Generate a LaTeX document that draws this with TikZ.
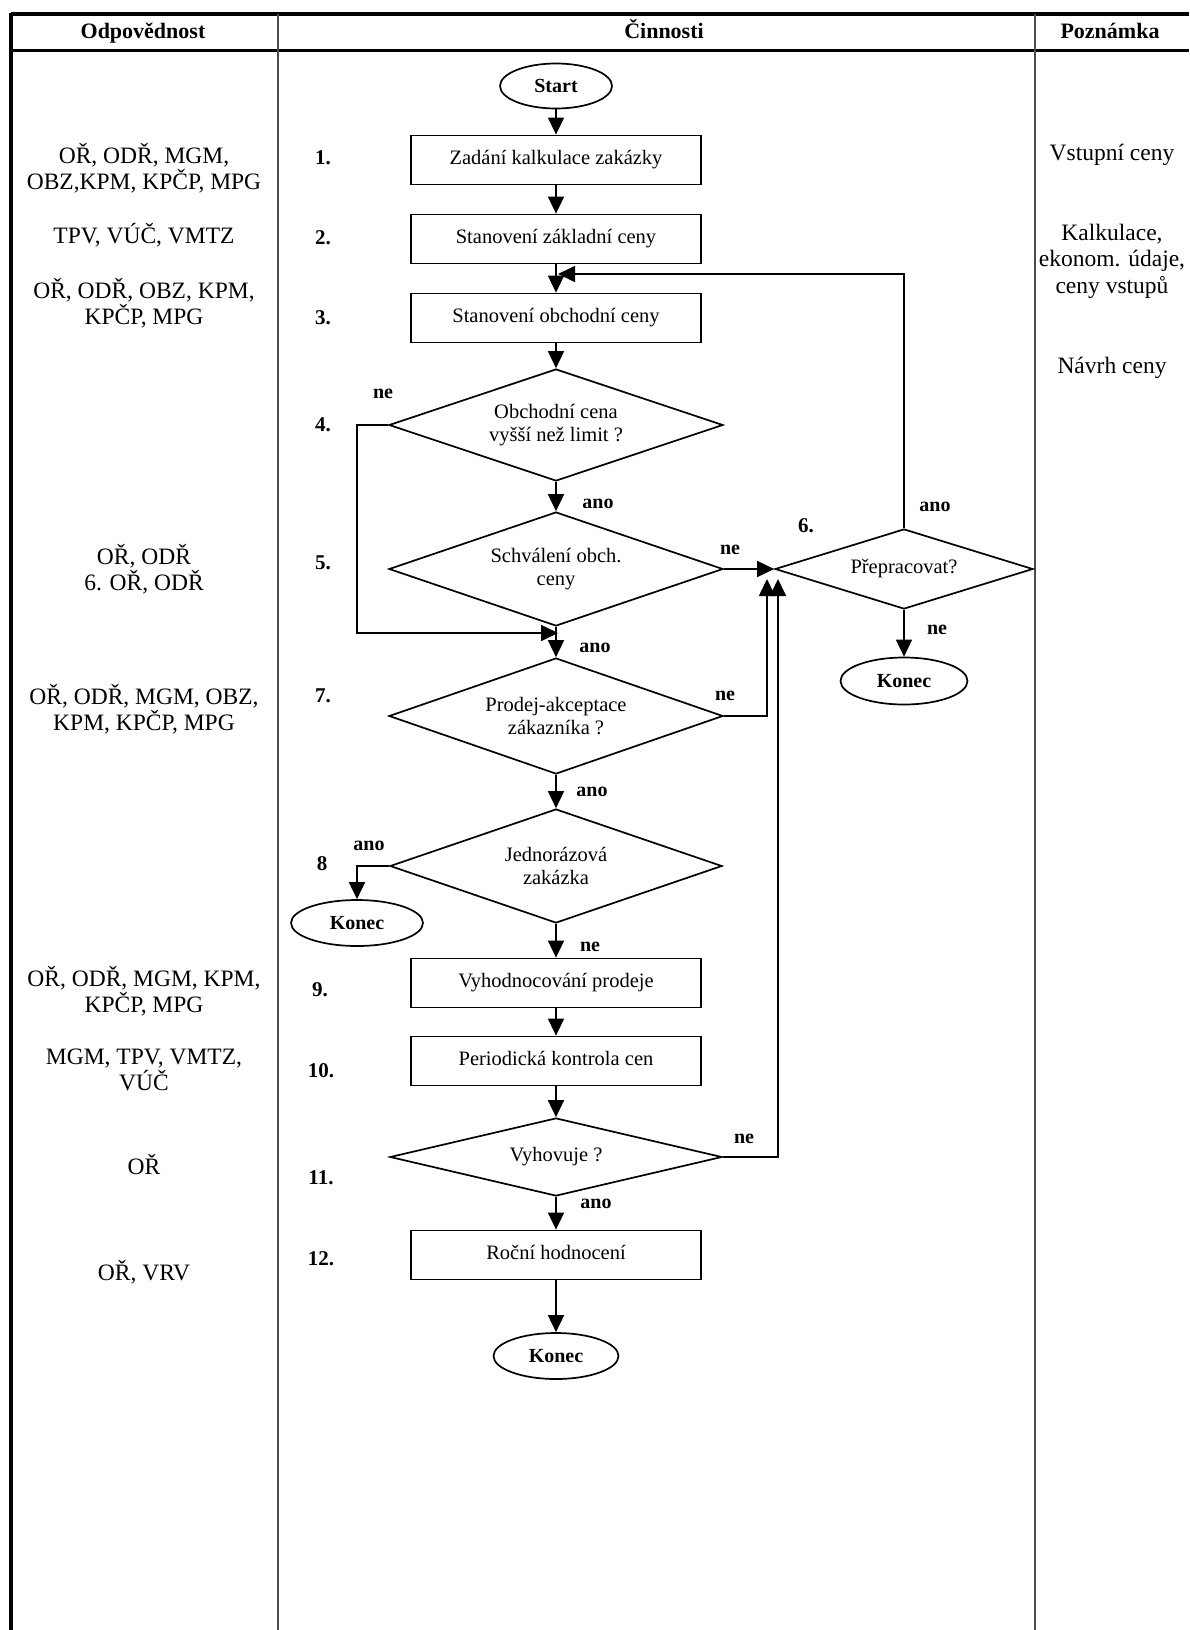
\documentclass[tikz,border=0pt]{standalone}
\usepackage{fontspec}
\setmainfont{Liberation Serif}
\usetikzlibrary{shapes.geometric,arrows.meta}

\tikzset{
  ln/.style={line width=1.7pt},
  arr/.style={ln, -{Triangle[length=17pt,width=16pt]}},
  boxst/.style={draw, line width=1.8pt, minimum width=290pt, minimum height=49pt,
    inner sep=0pt, text height=14pt, text depth=4.5pt,
    font=\fontsize{20.5}{22.5}\selectfont},
  dia/.style={draw, diamond, line width=1.7pt, inner sep=0pt, align=center,
    font=\fontsize{20.5}{22.5}\selectfont},
  term/.style={draw, ellipse, line width=1.7pt, inner sep=0pt,
    text height=13pt, text depth=1pt, font=\bfseries\fontsize{20}{22}\selectfont},
  lab/.style={inner sep=0pt, text height=13pt, text depth=1pt,
    font=\bfseries\fontsize{20}{22}\selectfont},
  num/.style={inner sep=0pt, text height=14pt, text depth=0pt,
    font=\bfseries\fontsize{21}{23}\selectfont},
  coltext/.style={inner sep=0pt, align=center, font=\fontsize{23.5}{26.5}\selectfont},
  hdr/.style={inner sep=0pt, text height=15pt, text depth=5pt,
    font=\bfseries\fontsize{22}{24}\selectfont},
  rule/.style={line width=1.6pt, black!70},
}

\begin{document}
\begin{tikzpicture}[x=1pt, y=-1pt]
\useasboundingbox (0,0) rectangle (1189,1630);

% table frame
\draw[line width=3.5pt] (11,14) -- (1189,14);
\draw[line width=3pt] (11,50) -- (1189,50);
\draw[line width=3.5pt] (11,12.5) -- (11,1630);
\draw[rule] (278,14) -- (278,1630);
\draw[rule] (1035,14) -- (1035,1630);

% column headers
\node[hdr] (h1) at (143,33) {Odpovědnost};
\node[hdr] (h2) at (664,33) {Činnosti};
\node[hdr] (h3) at (1110,33) {Poznámka};

% responsibilities
\node[coltext] (r1) at (144,168) {OŘ, ODŘ, MGM,\\OBZ,KPM, KPČP, MPG};
\node[coltext] (r2) at (144,235) {TPV, VÚČ, VMTZ};
\node[coltext] (r3) at (144,303) {OŘ, ODŘ, OBZ, KPM,\\KPČP, MPG};
\node[coltext] (r5) at (144,569) {OŘ, ODŘ\\6. OŘ, ODŘ};
\node[coltext] (r7) at (144,709) {OŘ, ODŘ, MGM, OBZ,\\KPM, KPČP, MPG};
\node[coltext] (r9) at (144,991) {OŘ, ODŘ, MGM, KPM,\\KPČP, MPG};
\node[coltext] (r10) at (144,1070) {MGM, TPV, VMTZ,\\VÚČ};
\node[coltext] (r11) at (144,1165) {OŘ};
\node[coltext] (r12) at (144,1272) {OŘ, VRV};

% notes
\node[coltext] (p1) at (1112,155) {Vstupní ceny};
\node[coltext] (p2) at (1112,261) {Kalkulace,\\ekonom. údaje,\\ceny vstupů};
\node[coltext] (p3) at (1112,368) {Návrh ceny};

% step numbers
\node[num] (n1) at (323,157) {1.};
\node[num] (n2) at (323,237) {2.};
\node[num] (n3) at (323,317) {3.};
\node[num] (n4) at (323,424) {4.};
\node[num] (n5) at (323,562) {5.};
\node[num] (n6) at (806,525) {6.};
\node[num] (n7) at (323,695) {7.};
\node[num] (n8) at (322,863) {8};
\node[num] (n9) at (320,989) {9.};
\node[num] (n10) at (321,1070) {10.};
\node[num] (n11) at (321,1177) {11.};
\node[num] (n12) at (321,1258) {12.};

% flow elements
\node[term, minimum width=112pt, minimum height=45pt] (start) at (556,86) {Start};
\node[boxst] (b1) at (556,160) {Zadání kalkulace zakázky};
\node[boxst] (b2) at (556,239) {Stanovení základní ceny};
\node[boxst] (b3) at (556,318) {Stanovení obchodní ceny};
\node[dia, minimum width=334pt, minimum height=112pt, aspect=3] (d4) at (556,425)
  {Obchodní cena\\vyšší než limit ?};
\node[dia, minimum width=334pt, minimum height=114pt, aspect=3] (d5) at (556,569)
  {Schválení obch.\\ceny};
\node[dia, minimum width=258pt, minimum height=80pt, aspect=3.2] (d6) at (904,569)
  {Přepracovat?};
\node[term, minimum width=127pt, minimum height=47pt] (k6) at (904,681) {Konec};
\node[dia, minimum width=334pt, minimum height=116pt, aspect=3] (d7) at (556,716)
  {Prodej-akceptace\\zákazníka ?};
\node[dia, minimum width=332pt, minimum height=114pt, aspect=3] (d8) at (556,866)
  {Jednorázová\\zakázka};
\node[term, minimum width=132pt, minimum height=46pt] (k8) at (357,923) {Konec};
\node[boxst] (b9) at (556,983) {Vyhodnocování prodeje};
\node[boxst] (b10) at (556,1061) {Periodická kontrola cen};
\node[dia, minimum width=332pt, minimum height=78pt, aspect=4.2] (d11) at (556,1157)
  {Vyhovuje ?};
\node[boxst] (b12) at (556,1255) {Roční hodnocení};
\node[term, minimum width=125pt, minimum height=46pt] (kend) at (556,1356) {Konec};

% junction points on the main line and under the rework decision
\coordinate (j0) at (558,274);
\coordinate (c4) at (357,633);
\coordinate (j1) at (558,633);
\coordinate (j2) at (767,579);
\coordinate (j3) at (778,579);

% main flow
\draw[arr] (start.south) -- (b1.north);
\draw[arr] (b1.south) -- (b2.north);
\draw[arr] (b2.south) -- (b3.north);
\draw[arr] (b3.south) -- (d4.north);
\draw[arr] (d4.south) -- (d5.north);
\draw[arr] (d5.south) -- (d7.north);
\draw[arr] (d7.south) -- (d8.north);
\draw[arr] (d8.south) -- (b9.north);
\draw[arr] (b9.south) -- (b10.north);
\draw[arr] (b10.south) -- (d11.north);
\draw[arr] (d11.south) -- (b12.north);
\draw[arr] (b12.south) -- (kend.north);

% branches
\draw[arr] (d4.west) -| (c4) -- (j1);
\draw[arr] (d5.east) -- (d6.west);
\draw[arr] (d6.north) |- (j0);
\draw[arr] (d6.south) -- (k6.north);
\draw[arr] (d7.east) -| (j2);
\draw[arr] (d8.west) -| (k8.north);
\draw[arr] (d11.east) -| (j3);

% branch labels
\node[lab] (l4ne) at (383,392) {ne};
\node[lab] (l4ano) at (598,502) {ano};
\node[lab] (l5ne) at (730,548) {ne};
\node[lab] (l5ano) at (595,646) {ano};
\node[lab] (l7ne) at (725,694) {ne};
\node[lab] (l6ano) at (935,505) {ano};
\node[lab] (l6ne) at (937,628) {ne};
\node[lab] (l7ano) at (592,790) {ano};
\node[lab] (l8ano) at (369,844) {ano};
\node[lab] (l8ne) at (590,945) {ne};
\node[lab] (l11ne) at (744,1137) {ne};
\node[lab] (l11ano) at (596,1202) {ano};
\end{tikzpicture}
\end{document}
